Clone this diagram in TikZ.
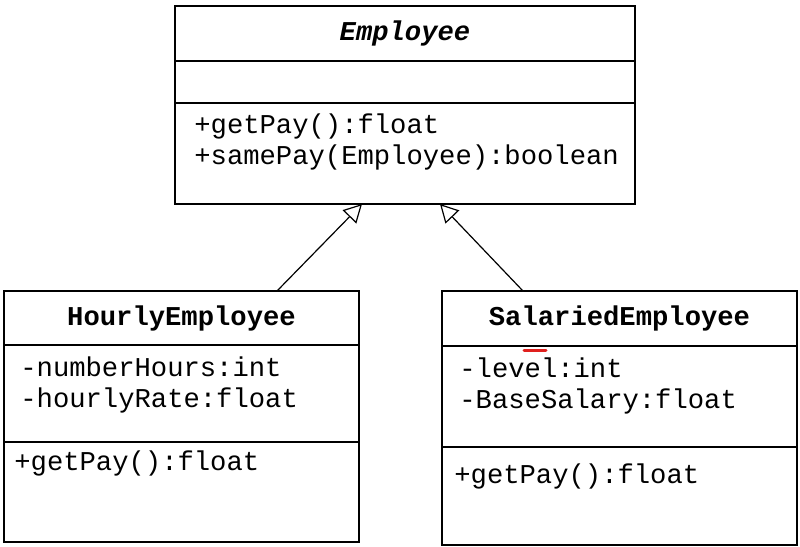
\documentclass[tikz,border=0pt]{standalone}
\usepackage{fontspec}
\setmonofont{Liberation Mono}
\usetikzlibrary{arrows.meta, positioning}
\definecolor{umlLine}{HTML}{000000}
\definecolor{spellRed}{HTML}{E0201E}
\newcommand{\umlfont}{\ttfamily\fontsize{13.6}{15.5}\selectfont}

\begin{document}
\begin{tikzpicture}[x=0.5pt, y=-0.5pt,
    part/.style={rectangle, draw=umlLine, line width=0.6pt, inner sep=0pt,
                 outer sep=0pt, minimum width=#1, font=\umlfont},
    members/.style={align=left, inner sep=0pt, font=\umlfont},
    inherit/.style={-{Triangle[open, length=9pt, width=9.5pt]}, line width=0.6pt,
                    draw=umlLine, fill=white},
  ]
    \useasboundingbox (0,0) rectangle (800,547);

    % Employee
    \node[part=230pt, minimum height=27.5pt, anchor=north west] (etitle) at (175,6)
      {\bfseries\itshape Employee};
    \node[part=230pt, minimum height=21pt, below=0pt of etitle] (eattr) {};
    \node[part=230pt, minimum height=50.5pt, below=0pt of eattr] (eops) {};
    \node[members, below right=5pt and 9.5pt of eops.north west] (eopstext)
      {+getPay():float\\+samePay(Employee):boolean};

    % HourlyEmployee
    \node[part=177.5pt, minimum height=27pt, anchor=north west] (htitle) at (4,291)
      {\bfseries HourlyEmployee};
    \node[part=177.5pt, minimum height=48.5pt, below=0pt of htitle] (hattr) {};
    \node[part=177.5pt, minimum height=50pt, below=0pt of hattr] (hops) {};
    \node[members, below right=5.5pt and 8pt of hattr.north west] (hattrtext)
      {-numberHours:int\\-hourlyRate:float};
    \node[members, below right=4pt and 5pt of hops.north west] (hopstext)
      {+getPay():float};

    % SalariedEmployee
    \node[part=177.5pt, minimum height=27.5pt, anchor=north west] (stitle) at (442,291)
      {\bfseries SalariedEmployee};
    \node[part=177.5pt, minimum height=50.5pt, below=0pt of stitle] (sattr) {};
    \node[part=177.5pt, minimum height=49pt, below=0pt of sattr] (sops) {};
    \node[members, below right=5.5pt and 8.5pt of sattr.north west] (sattrtext)
      {-level:int\\-BaseSalary:float};
    \node[members, below right=8pt and 6pt of sops.north west] (sopstext)
      {+getPay():float};

    % spell-check mark
    \draw[spellRed, line width=1.5pt, line cap=round] (524,350) -- (546,350);

    % Generalisation arrows
    \draw[inherit] ([xshift=47.75pt]htitle.north) -- ([xshift=-21.5pt]eops.south);
    \draw[inherit] ([xshift=-48.25pt]stitle.north) -- ([xshift=17.5pt]eops.south);
\end{tikzpicture}
\end{document}
